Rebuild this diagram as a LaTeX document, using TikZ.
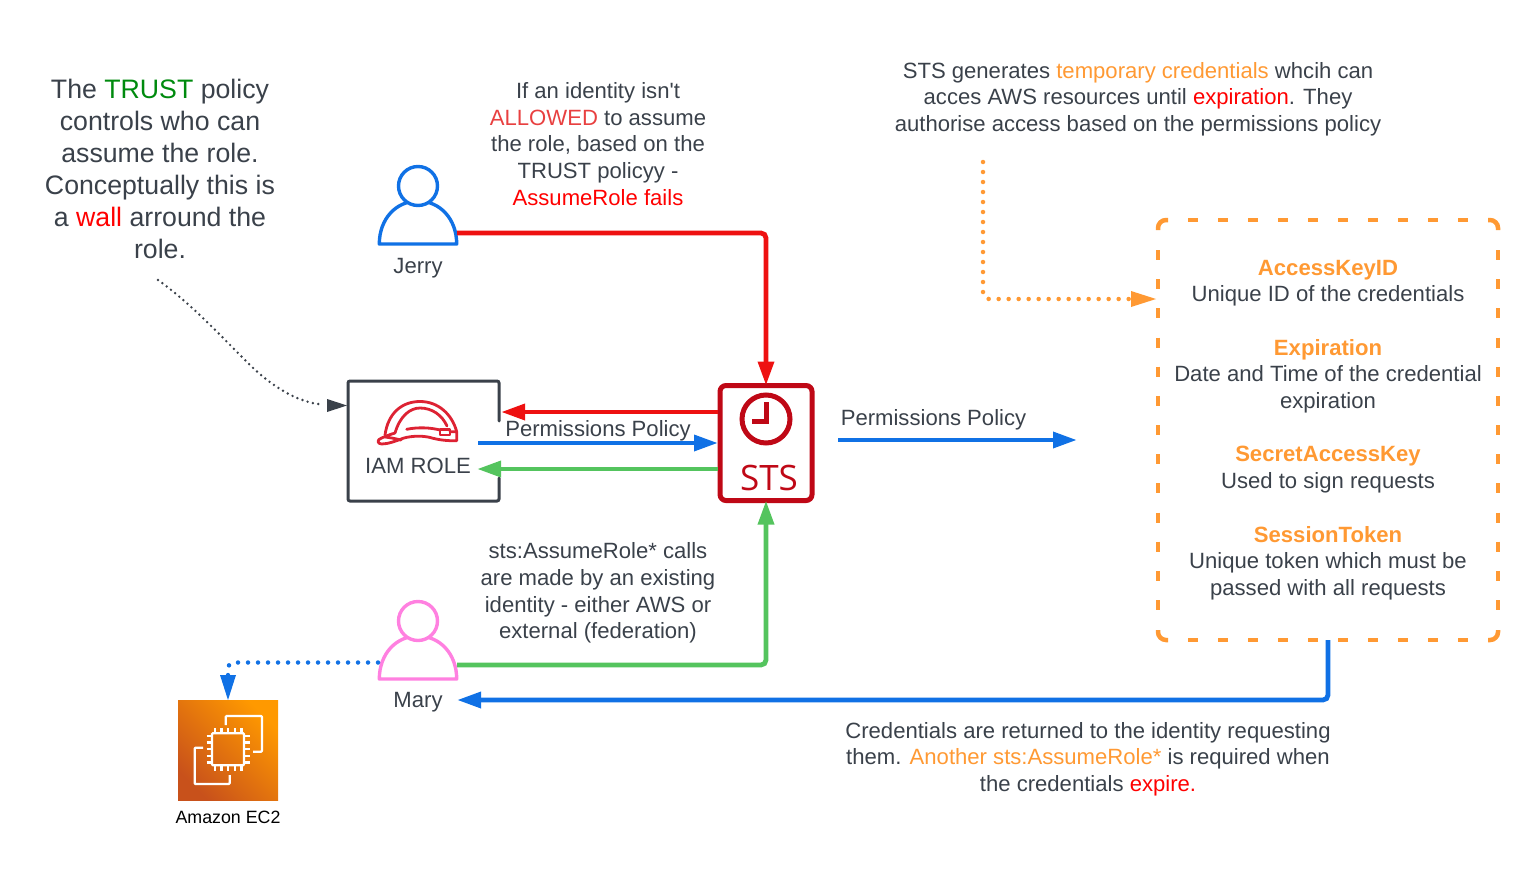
\documentclass[tikz,border=0pt]{standalone}
\usepackage{fontspec}
\setmainfont{Liberation Sans}
\newfontfamily\plainfont{Liberation Sans}
\newfontfamily\stsfont{Open Sans}
\usetikzlibrary{arrows.meta,calc}
\definecolor{ink}{HTML}{3A414A}
\definecolor{cblue}{HTML}{1071E5}
\definecolor{cred}{HTML}{EE1111}
\definecolor{cgreen}{HTML}{54C45E}
\definecolor{corange}{HTML}{FF9933}
\definecolor{cpink}{HTML}{FF80E0}
\definecolor{stsred}{HTML}{BF0816}
\definecolor{hatred}{HTML}{DD2233}
\definecolor{tgreen}{HTML}{008A0E}
\definecolor{tred}{HTML}{FF0000}
\definecolor{allow}{HTML}{E84040}
\definecolor{ecA}{HTML}{C8511B}
\definecolor{ecB}{HTML}{FF9900}
\newcommand{\Or}[1]{\textcolor{corange}{#1}}
\newcommand{\Rd}[1]{\textcolor{tred}{#1}}
\tikzset{
  x=1pt,y=-1pt,
  every node/.style={inner sep=0pt,outer sep=0pt,text=ink},
  txt/.style={align=center,font=\fontsize{22.1}{26.67}\selectfont},
  big/.style={align=center,font=\fontsize{26.7}{32}\selectfont},
  conn/.style={line width=4.8pt,rounded corners=5pt},
  tip/.style={-{Triangle[length=24pt,width=15.5pt]}},
  dots/.style={line width=4.5pt,line cap=round,dash pattern=on 0pt off 10pt,rounded corners=6pt},
  bodyline/.style={line width=3.4pt,line join=round},
  cardline/.style={corange,line width=4.5pt,rounded corners=8pt},
}
\newcommand{\person}[3]{%
  \draw[bodyline,#2,fill=white] (#3-38.7,#1+78) -- (#3+38.7,#1+78) .. controls (#3+38.7,#1+53) and (#3+22,#1+35) .. (#3,#1+35) .. controls (#3-22,#1+35) and (#3-38.7,#1+53) .. (#3-38.7,#1+78) -- cycle;
  \draw[bodyline,#2,fill=white] (#3,#1+20) circle[radius=19.5];
}
\begin{document}
\begin{tikzpicture}
\useasboundingbox (0,0) rectangle (1538,870);
% people
\person{166}{cblue}{418}
\person{601}{cpink}{418}
\node[minimum width=79pt,minimum height=78pt] (jerry) at (418,205) {};
\node[minimum width=79pt,minimum height=78pt] (mary) at (418,640) {};
\node[txt] (jerrylab) at (418,268) {Jerry};
\node[txt] (marylab) at (418,702) {Mary};
% role
\node[minimum width=151pt,minimum height=120pt] (role) at (423.5,441) {};
\draw[ink,line width=3pt,line cap=round,rounded corners=2pt] (499,421) -- (499,381) -- (348,381) -- (348,501) -- (499,501) -- (499,478);
\begin{scope}[hatred,line width=2.8pt,line cap=round,line join=round]
\draw (385,435) .. controls (388,413) and (402,401.500) .. (420,401.500) .. controls (438,401.500) and (452,414) .. (456.700,431.700);
\draw (395,433) .. controls (400,416) and (410,408) .. (420,408) .. controls (432,408) and (442,415) .. (447,426);
\draw (406.700,429.300) .. controls (418,427) and (430,427.500) .. (440,430);
\draw (440,429.500) rectangle (450,435);
\draw (450,431.700) -- (456.700,431.700) -- (456.700,440.700) .. controls (448,441) and (440,440) .. (433,438.300) .. controls (425,435.500) and (412,435.500) .. (403,438.300) .. controls (396,441) and (388,444) .. (381.700,444) .. controls (377,444) and (377,439.500) .. (381,438.300) .. controls (386,436) and (390,434.500) .. (395,433);
\draw (385,437) .. controls (390,437.500) and (397,439) .. (401,440);
\end{scope}
\node[txt] (rolelab) at (418,465.5) {IAM ROLE};
% STS
\node[draw=stsred,line width=5pt,rounded corners=6pt,minimum width=92pt,minimum height=115pt] (sts) at (766,443) {};
\draw[stsred,line width=5pt] (766,419) circle[radius=24];
\draw[stsred,line width=5pt] (766.5,402) -- (766.5,421.5) -- (752,421.5);
\node[font=\stsfont\fontsize{35}{35}\selectfont,text=stsred] (ststxt) at (769,477.5) {STS};
% EC2
\shade[shading=axis,bottom color=ecA,top color=ecB,shading angle=-45] (178,700) rectangle (278,800);
\node[minimum width=100pt,minimum height=100pt] (ec2) at (228,750) {};
\begin{scope}[white,line width=2.4pt,line join=round,line cap=butt]
\draw[rounded corners=1pt] (225.7,725) -- (225.7,716) -- (262,716) -- (262,751.7) -- (253,751.7);
\draw[rounded corners=1pt] (203,747.7) -- (194.7,747.7) -- (194.7,784) -- (229.7,784) -- (229.7,775);
\draw[rounded corners=1pt] (212,733.2) rectangle (244,765.2);
\foreach \k in {0,1,2,3,4}{
  \draw (214.7+6.67*\k,728) -- (214.7+6.67*\k,733.2);
  \draw (214.7+6.67*\k,765.2) -- (214.7+6.67*\k,770.500);
  \draw (206.500,735.9+6.67*\k) -- (212,735.9+6.67*\k);
  \draw (244,735.9+6.67*\k) -- (249.500,735.9+6.67*\k);
}
\end{scope}
\node[font=\fontsize{17.8}{20}\selectfont,text=black] (ec2lab) at (228,817.5) {Amazon EC2};
% credentials box
\node[minimum width=340pt,minimum height=420pt] (cred) at (1328,430) {};
\draw[cardline] (1168,220) -- (1158,220) -- (1158,230);
\draw[cardline] (1488,220) -- (1498,220) -- (1498,230);
\draw[cardline] (1168,640) -- (1158,640) -- (1158,630);
\draw[cardline] (1488,640) -- (1498,640) -- (1498,630);
\foreach \k in {0,...,9}{
  \draw[corange,line width=4.5pt] (1188+30*\k,220) -- ++(10,0);
  \draw[corange,line width=4.5pt] (1188+30*\k,640) -- ++(10,0);
}
\foreach \k in {0,...,12}{
  \draw[corange,line width=4.5pt] (1158,250+29.17*\k) -- ++(0,10);
  \draw[corange,line width=4.5pt] (1498,250+29.17*\k) -- ++(0,10);
}
% connectors
\coordinate (jout) at (457,233);
\draw[conn,cred,tip] (jout) -| (sts.north);
\coordinate (maryout) at (457,665);
\draw[conn,cgreen,tip] (maryout) -| (sts.south);
\coordinate (s1) at (718,412);\coordinate (r1) at (501,412);
\draw[conn,cred,tip] (s1) -- (r1);
\coordinate (r2) at (478,443);\coordinate (s2) at (718,443);
\draw[conn,cblue,tip] (r2) -- (s2);
\coordinate (s3) at (718,469);\coordinate (r3) at (477,469);
\draw[conn,cgreen,tip] (s3) -- (r3);
\coordinate (p1) at (838,440);\coordinate (p2) at (1077,440);
\draw[conn,cblue,tip] (p1) -- (p2);
\coordinate (crb) at (cred.south);\coordinate (mlab) at (457,700);
\draw[conn,cblue,tip] (crb) |- (mlab);
\coordinate (o1) at (983,162);\coordinate (o2) at (1156,299);
\draw[dots,corange] (o1) |- ($(o2)+(-24,0)$);
\fill[corange] (o2) -- ++(-25,-8) -- ++(0,16) -- cycle;
\coordinate (m1) at (378,662.5);\coordinate (e1) at (228,700);
\draw[dots,cblue] (m1) -| ($(e1)+(0,-24)$);
\fill[cblue] (e1) -- ++(-8,-25) -- ++(16,0) -- cycle;
\coordinate (w1) at (158,280);\coordinate (w2) at (347,405.500);
\draw[ink,line width=2.7pt,line cap=round,dash pattern=on 0pt off 5.4pt] (w1) .. controls (190,303) and (217,332) .. (243,358) .. controls (268,384) and (295,402) .. (322,404.500);
\fill[ink] (w2) -- ++(-20,-6.500) -- ++(0,13) -- cycle;
% text
\node[big] (tleft) at (160,169) {The \textcolor{tgreen}{TRUST} policy\\controls who can\\assume the role.\\Conceptually this is\\a \Rd{wall} arround the\\role.};
\node[txt] (tfail) at (598,144) {If an identity isn{\plainfont '}t\\\textcolor{allow}{ALLOWED} to assume\\the role, based on the\\TRUST policyy -\\\Rd{AssumeRole fails}};
\node[txt] (tsts) at (1138,99) {STS generates \Or{temporary credentials} whcih can\\acces AWS resources until \Rd{expiration}. They\\authorise access based on the permissions policy};
\node[txt] (tpp1) at (598,431) {Permissions Policy};
\node[txt] (tpp2) at (933.500,419.5) {Permissions Policy};
\node[txt] (tcalls) at (598,593) {sts:AssumeRole* calls\\are made by an existing\\identity - either AWS or\\external (federation)};
\node[txt] (tret) at (1088,759) {Credentials are returned to the identity requesting\\them. \Or{Another sts:AssumeRole*} is required when\\the credentials \Rd{expire.}};
\node[txt] (tk1) at (1328,283.2) {\Or{\textbf{AccessKeyID}}\\Unique ID of the credentials};
\node[txt] (tk2) at (1328,376) {\Or{\textbf{Expiration}}\\Date and Time of the credential\\expiration};
\node[txt] (tk3) at (1328,469.5) {\Or{\textbf{SecretAccessKey}}\\Used to sign requests};
\node[txt] (tk4) at (1328,563) {\Or{\textbf{SessionToken}}\\Unique token which must be\\passed with all requests};
\end{tikzpicture}
\end{document}
